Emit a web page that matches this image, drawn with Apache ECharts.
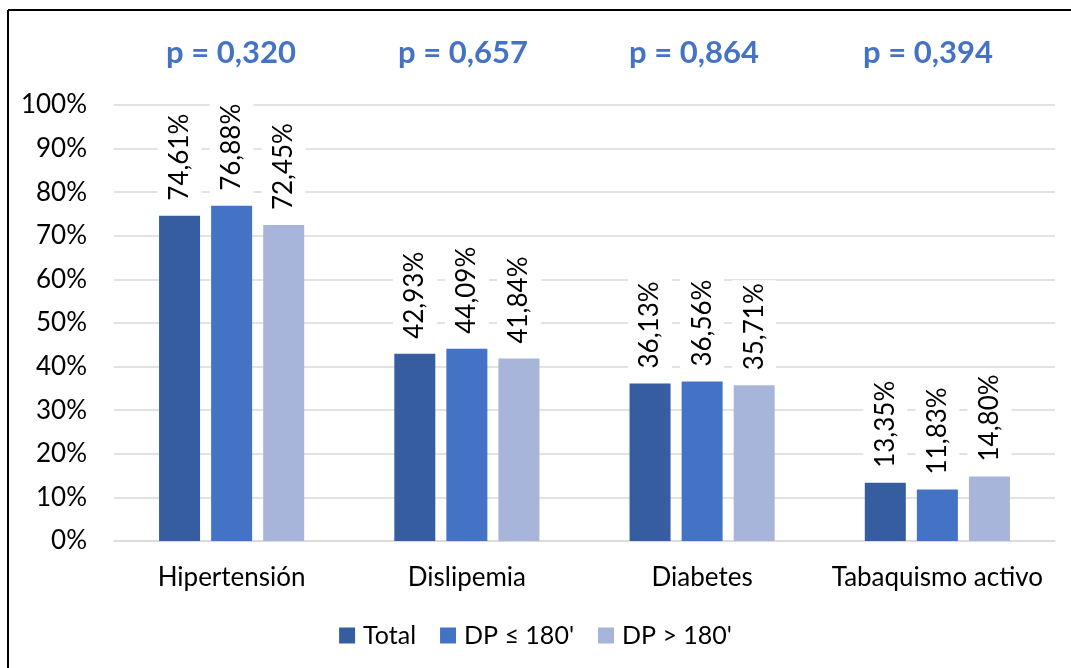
<!DOCTYPE html>
<html>
<head>
<meta charset="utf-8">
<script src="https://cdn.jsdelivr.net/npm/echarts@6/dist/echarts.min.js"></script>
<style>
  html, body { margin: 0; padding: 0; background: #fff; }
  #chart { width: 1071px; height: 668px; }
</style>
</head>
<body>
<div id="chart"></div>
<script>
// Cardiovascular risk factors by group (percent of patients)
const categories = ['Hipertensión', 'Dislipemia', 'Diabetes', 'Tabaquismo activo'];
const seriesNames = ['Total', "DP ≤ 180'", "DP > 180'"];
const totalValues = [74.61, 42.93, 36.13, 13.35];
const dpLowValues = [76.88, 44.09, 36.56, 11.83];
const dpHighValues = [72.45, 41.84, 35.71, 14.80];
const pValues = ['p = 0,320', 'p = 0,657', 'p = 0,864', 'p = 0,394'];
const yTicks = [0, 10, 20, 30, 40, 50, 60, 70, 80, 90, 100];

const FONT = 'Lato, "Open Sans", sans-serif';
const colors = ['#355D9F', '#4472C4', '#A8B5DA'];

const chart = echarts.init(document.getElementById('chart'), null, { renderer: 'canvas' });

const fmtPct = v => v.toFixed(2).replace('.', ',') + '%';

const barLabel = {
  show: true,
  position: 'top',
  distance: 10,
  rotate: 90,
  align: 'left',
  verticalAlign: 'middle',
  color: '#000',
  fontFamily: FONT,
  fontSize: 26,
  backgroundColor: '#fff',
  padding: [9, 3, 9, 5],
  formatter: p => fmtPct(p.value)
};

const allValues = [totalValues, dpLowValues, dpHighValues];

const pX = [231, 463, 694, 928];

chart.setOption({
  animation: false,
  backgroundColor: '#fff',
  color: colors,
  grid: { left: 114, right: 16, top: 105, bottom: 127, containLabel: false },
  legend: {
    data: seriesNames,
    bottom: 15,
    left: 'center',
    itemWidth: 16,
    itemHeight: 16,
    itemGap: 24,
    icon: 'rect',
    textStyle: { fontFamily: FONT, fontSize: 25, color: '#000', padding: [0, 0, 0, 3] }
  },
  xAxis: {
    type: 'category',
    data: categories,
    axisLine: { show: true, lineStyle: { color: '#D9D9D9', width: 1.5 } },
    axisTick: { show: false },
    axisLabel: { interval: 0, fontFamily: FONT, fontSize: 26, color: '#000', margin: 24 }
  },
  yAxis: {
    type: 'value',
    min: yTicks[0],
    max: yTicks[yTicks.length - 1],
    interval: yTicks[1] - yTicks[0],
    axisLine: { show: false },
    axisTick: { show: false },
    splitLine: { lineStyle: { color: '#D9D9D9', width: 1.5 } },
    axisLabel: { fontFamily: FONT, fontSize: 26, color: '#000', margin: 27, formatter: '{value}%' }
  },
  series: seriesNames.map((name, i) => ({
    name,
    type: 'bar',
    data: allValues[i],
    barWidth: 41,
    barGap: '27%',
    itemStyle: { color: colors[i] },
    label: barLabel
  })),
  graphic: [
    { type: 'line', shape: { x1: 8, y1: 10, x2: 1071, y2: 10 }, style: { stroke: '#000', lineWidth: 2 } },
    { type: 'line', shape: { x1: 8, y1: 10, x2: 8, y2: 668 }, style: { stroke: '#000', lineWidth: 2 } }
  ].concat(pValues.map((t, i) => ({
    type: 'text',
    x: pX[i],
    y: 53,
    style: {
      text: t,
      fill: '#4472C4',
      font: 'bold 31px ' + FONT,
      textAlign: 'center',
      textVerticalAlign: 'middle'
    }
  })))
});
</script>
</body>
</html>
